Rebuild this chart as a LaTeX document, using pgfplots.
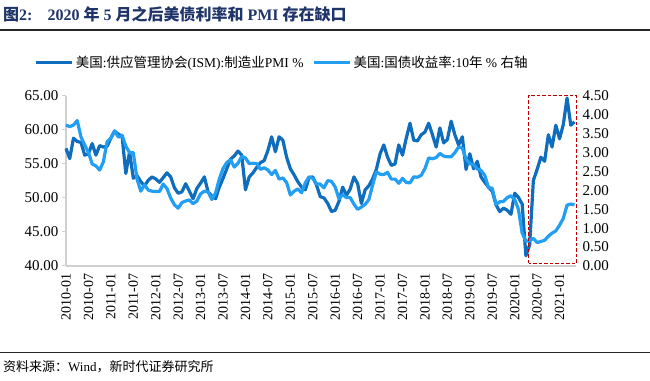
\documentclass[border=0pt]{standalone}
\usepackage{pgfplots}
\pgfplotsset{compat=1.18}
\usepackage{pgfplotstable}
\usepackage{fontspec}
\setmainfont{Liberation Serif}
\newfontfamily\cjk{Noto Sans CJK SC}
\definecolor{pmiblue}{HTML}{0E6DBC}
\definecolor{yldblue}{HTML}{229EF2}
\definecolor{titleblue}{HTML}{1F3468}
\definecolor{axgray}{HTML}{D0D0D0}
\definecolor{boxred}{HTML}{C00000}

\pgfplotstableread{
m v
0 57.3
1 55.8
2 58.8
3 58.3
4 58.2
5 56.3
6 56.5
7 58.0
8 56.3
9 57.7
10 57.5
11 57.6
12 58.8
13 59.8
14 59.4
15 59.1
16 53.6
17 56.8
18 52.9
19 53.3
20 52.4
21 51.8
22 52.6
23 53.1
24 52.8
25 52.3
26 53.0
27 53.7
28 53.1
29 51.5
30 50.7
31 50.9
32 52.1
33 51.0
34 49.9
35 51.4
36 52.2
37 53.1
38 50.9
39 50.3
40 49.9
41 51.6
42 52.9
43 54.3
44 55.7
45 56.2
46 56.9
47 56.3
48 51.2
49 53.1
50 53.7
51 54.5
52 55.2
53 55.5
54 57.0
55 59.0
56 56.8
57 59.0
58 58.5
59 56.0
60 54.3
61 53.4
62 52.4
63 51.6
64 51.2
65 53.0
66 53.1
67 51.9
68 50.2
69 50.0
70 49.2
71 48.0
72 48.2
73 49.5
74 51.6
75 50.4
76 51.3
77 53.1
78 52.1
79 49.2
80 51.2
81 51.8
82 52.8
83 54.2
84 56.5
85 57.8
86 56.0
87 54.8
88 55.0
89 57.8
90 56.3
91 58.8
92 61.0
93 58.5
94 58.4
95 59.3
96 59.7
97 61.0
98 59.3
99 57.5
100 60.3
101 58.1
102 58.6
103 61.3
104 59.3
105 57.8
106 59.0
107 54.2
108 56.5
109 54.3
110 55.4
111 53.1
112 52.3
113 51.6
114 51.0
115 49.0
116 48.0
117 48.5
118 48.2
119 47.6
120 50.7
121 50.1
122 49.1
123 41.5
124 43.1
125 52.6
126 54.2
127 56.0
128 55.4
129 59.3
130 57.5
131 60.7
132 58.7
133 60.8
134 64.7
135 60.7
136 61.2
}\pmidata

\pgfplotstableread{
m v
0 3.73
1 3.69
2 3.73
3 3.85
4 3.42
5 3.20
6 3.01
7 2.70
8 2.65
9 2.54
10 2.76
11 3.29
12 3.39
13 3.58
14 3.41
15 3.46
16 3.17
17 3.00
18 3.00
19 2.30
20 1.98
21 2.15
22 2.01
23 1.98
24 1.97
25 1.97
26 2.17
27 2.05
28 1.80
29 1.62
30 1.53
31 1.68
32 1.72
33 1.75
34 1.65
35 1.72
36 1.91
37 1.98
38 1.96
39 1.76
40 1.93
41 2.30
42 2.58
43 2.74
44 2.81
45 2.62
46 2.72
47 2.90
48 2.86
49 2.71
50 2.72
51 2.71
52 2.56
53 2.60
54 2.54
55 2.42
56 2.53
57 2.30
58 2.33
59 2.21
60 1.88
61 1.98
62 2.04
63 1.94
64 2.20
65 2.36
66 2.32
67 2.17
68 2.17
69 2.07
70 2.26
71 2.24
72 2.09
73 1.78
74 1.89
75 1.81
76 1.81
77 1.64
78 1.50
79 1.56
80 1.63
81 1.76
82 2.14
83 2.49
84 2.43
85 2.42
86 2.48
87 2.30
88 2.30
89 2.19
90 2.32
91 2.21
92 2.20
93 2.36
94 2.35
95 2.40
96 2.58
97 2.86
98 2.84
99 2.87
100 2.98
101 2.91
102 2.89
103 2.89
104 3.00
105 3.15
106 3.12
107 2.83
108 2.71
109 2.68
110 2.57
111 2.53
112 2.40
113 2.07
114 2.06
115 1.63
116 1.70
117 1.71
118 1.81
119 1.86
120 1.76
121 1.50
122 0.87
123 0.66
124 0.67
125 0.73
126 0.62
127 0.65
128 0.68
129 0.79
130 0.87
131 0.93
132 1.08
133 1.26
134 1.61
135 1.64
136 1.62
}\yielddata

\begin{document}
\begin{tikzpicture}[x=1pt,y=1pt]
\useasboundingbox (0,0) rectangle (650,380);
% title
\node[anchor=west,inner sep=0,text=titleblue,font=\fontsize{16}{16}\selectfont\bfseries] at (3,366)
  {{\cjk 图}2:\hspace{15pt}2020 {\cjk 年} 5 {\cjk 月之后美债利率和} PMI {\cjk 存在缺口}};
\draw[line width=2pt,black!85] (0,350) -- (650,350);
% bottom rule and source
\draw[line width=1pt,black!85] (0,28) -- (650,28);
\node[anchor=west,inner sep=0,font=\fontsize{13}{13}\selectfont] at (3,13)
  {{\cjk 资料来源：}Wind{\cjk ，新时代证券研究所}};

\begin{axis}[
  at={(66pt,114pt)}, anchor=south west,
  scale only axis, width=510pt, height=170pt,
  xmin=0, xmax=136.4, ymin=40, ymax=65,
  axis y line*=left, axis x line*=bottom,
  axis line style={axgray, line width=1.2pt},
  xtick={0,6,...,132},
  xticklabels={2010-01,2010-07,2011-01,2011-07,2012-01,2012-07,2013-01,2013-07,2014-01,2014-07,2015-01,2015-07,2016-01,2016-07,2017-01,2017-07,2018-01,2018-07,2019-01,2019-07,2020-01,2020-07,2021-01},
  xticklabel style={rotate=90, anchor=east, font=\fontsize{14}{14}\selectfont},
  x tick style={draw=none},
  ytick={40,45,...,65},
  y tick style={axgray, line width=1pt},
  tick align=outside, major tick length=4pt,
  yticklabel style={font=\fontsize{15}{15}\selectfont, /pgf/number format/.cd, fixed, fixed zerofill, precision=2},
  /pgf/number format/assume math mode=true,
  clip=false,
]
\addplot[pmiblue, line width=3.2pt, no marks, line join=round] table[x=m,y=v] {\pmidata};
\end{axis}

\begin{axis}[
  at={(66pt,114pt)}, anchor=south west,
  scale only axis, width=510pt, height=170pt,
  xmin=0, xmax=136.4, ymin=0, ymax=4.5,
  axis y line*=right, axis x line=none,
  y axis line style={draw=none},
  ytick={0,0.5,...,4.5},
  y tick style={draw=none},
  yticklabel style={font=\fontsize{15}{15}\selectfont, xshift=3pt, /pgf/number format/.cd, fixed, fixed zerofill, precision=2},
  /pgf/number format/assume math mode=true,
  clip=false,
  legend style={at={(rel axis cs:0.424,1.195)}, anchor=center, draw=none, fill=none,
    font=\fontsize{13.5}{13.5}\selectfont, legend columns=2,
    /tikz/every even column/.append style={column sep=7pt}},
  legend image code/.code={\draw[#1, line width=3pt] (0pt,0pt) -- (36pt,0pt);},
]
\addlegendimage{pmiblue}
\addlegendentry{{\cjk 美国}:{\cjk 供应管理协会}(ISM):{\cjk 制造业}PMI \%}
\addplot[yldblue, line width=3.2pt, no marks, line join=round] table[x=m,y=v] {\yielddata};
\addlegendentry{{\cjk 美国}:{\cjk 国债收益率}:10{\cjk 年} \% {\cjk 右轴}}
\draw[boxred, line width=1.1pt, dash pattern=on 3.5pt off 2pt] (axis cs:123.8,0.07) rectangle (axis cs:136.5,4.52);
\end{axis}
\end{tikzpicture}
\end{document}
